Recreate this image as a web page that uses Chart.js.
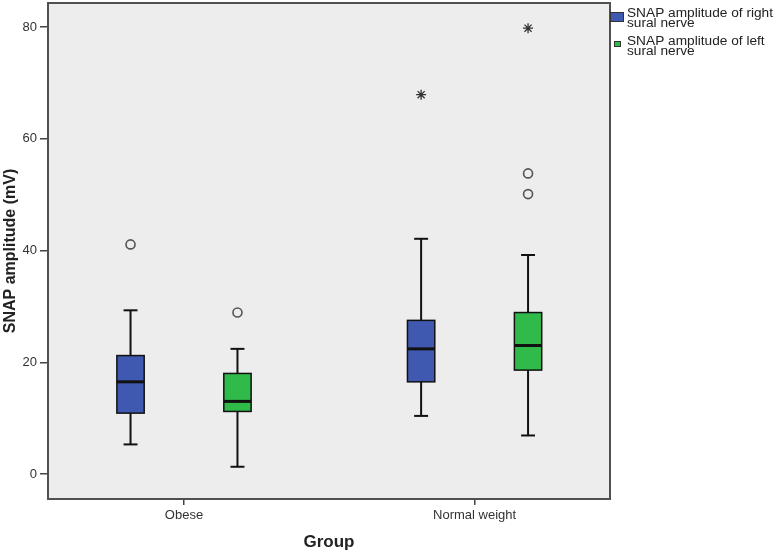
<!DOCTYPE html>
<html lang="en">
<head>
  <meta charset="UTF-8">
  <title>SNAP amplitude by group</title>
  <script src="https://cdn.jsdelivr.net/npm/chart.js"></script>
  <style>
    html, body { margin: 0; padding: 0; background: #fff; }
    #wrap { width: 778px; height: 553px; }
  </style>
</head>
<body>
  <div id="wrap"><canvas id="boxChart" width="778" height="553"></canvas></div>

  <script>
    // Groups on the x axis and the y tick values
    const categories = ['Obese', 'Normal weight'];
    const yTicks = [0, 20, 40, 60, 80];

    // Legend text (two lines each, as in the SPSS output)
    const rightName = ['SNAP amplitude of right', 'sural nerve'];
    const leftName = ['SNAP amplitude of left', 'sural nerve'];

    // Right sural nerve: whisker low, Q1, median, Q3, whisker high
    const rightMin = [5.3, 10.4];
    const rightQ1 = [10.9, 16.5];
    const rightMed = [16.5, 22.4];
    const rightQ3 = [21.2, 27.5];
    const rightMax = [29.3, 42.1];
    const rightOutliers = [[41.1], []];      // circles
    const rightExtremes = [[], [67.9]];      // stars

    // Left sural nerve
    const leftMin = [1.3, 6.9];
    const leftQ1 = [11.2, 18.6];
    const leftMed = [13.0, 23.0];
    const leftQ3 = [18.0, 28.9];
    const leftMax = [22.4, 39.2];
    const leftOutliers = [[28.9], [53.8, 50.1]];
    const leftExtremes = [[], [79.8]];

    const series = [
      { name: rightName, color: '#3f59b0', offset: -0.184,
        min: rightMin, q1: rightQ1, med: rightMed, q3: rightQ3, max: rightMax,
        outliers: rightOutliers, extremes: rightExtremes },
      { name: leftName, color: '#2fba4a', offset: 0.184,
        min: leftMin, q1: leftQ1, med: leftMed, q3: leftQ3, max: leftMax,
        outliers: leftOutliers, extremes: leftExtremes }
    ];

    const boxHalf = 0.047;   // half box width, in x units
    const capHalf = 0.024;   // half whisker cap width

    // turn the outlier lists into scatter points
    function points(s, key) {
      const pts = [];
      s[key].forEach(function(vals, ci) {
        vals.forEach(function(v) { pts.push({ x: ci + 1 + s.offset, y: v }); });
      });
      return pts;
    }

    const datasets = [];
    series.forEach(function(s) {
      datasets.push({
        label: s.name.join(' '),
        data: points(s, 'outliers'),
        pointStyle: 'circle',
        pointRadius: 4.5,
        backgroundColor: 'rgba(0,0,0,0)',
        borderColor: '#555',
        pointBorderWidth: 1.6
      });
      datasets.push({
        label: s.name.join(' ') + ' (extreme)',
        data: points(s, 'extremes'),
        pointStyle: 'star',
        pointRadius: 5,
        backgroundColor: 'rgba(0,0,0,0)',
        borderColor: '#333',
        pointBorderWidth: 1.3
      });
    });

    function line(ctx, x1, y1, x2, y2) {
      ctx.beginPath();
      ctx.moveTo(x1, y1);
      ctx.lineTo(x2, y2);
      ctx.stroke();
    }

    const boxPlugin = {
      id: 'boxes',
      beforeDraw(chart) {
        const ctx = chart.ctx, a = chart.chartArea;
        ctx.save();
        ctx.fillStyle = '#ededed';
        ctx.fillRect(a.left, a.top, a.right - a.left, a.bottom - a.top);
        ctx.restore();
      },
      beforeDatasetsDraw(chart) {
        const ctx = chart.ctx, xs = chart.scales.x, ys = chart.scales.y, a = chart.chartArea;
        ctx.save();
        series.forEach(function(s) {
          categories.forEach(function(c, ci) {
            const pos = ci + 1 + s.offset;
            const cx = xs.getPixelForValue(pos);
            const bl = xs.getPixelForValue(pos - boxHalf), br = xs.getPixelForValue(pos + boxHalf);
            const cl = xs.getPixelForValue(pos - capHalf), cr = xs.getPixelForValue(pos + capHalf);
            const yMin = ys.getPixelForValue(s.min[ci]), yMax = ys.getPixelForValue(s.max[ci]);
            const yQ1 = ys.getPixelForValue(s.q1[ci]), yQ3 = ys.getPixelForValue(s.q3[ci]);
            const yMed = ys.getPixelForValue(s.med[ci]);

            ctx.strokeStyle = '#111';
            ctx.lineWidth = 2;
            line(ctx, cx, yMin, cx, yMax);
            line(ctx, cl, yMin, cr, yMin);
            line(ctx, cl, yMax, cr, yMax);

            ctx.fillStyle = s.color;
            ctx.fillRect(bl, yQ3, br - bl, yQ1 - yQ3);
            ctx.lineWidth = 1.5;
            ctx.strokeRect(bl, yQ3, br - bl, yQ1 - yQ3);

            ctx.lineWidth = 3;
            line(ctx, bl, yMed, br, yMed);
          });
        });
        // plot frame
        ctx.strokeStyle = '#505050';
        ctx.lineWidth = 2;
        ctx.strokeRect(a.left, a.top, a.right - a.left, a.bottom - a.top);
        ctx.restore();
      },
      afterDraw(chart) {
        // SPSS style legend at the top right
        const ctx = chart.ctx;
        ctx.save();
        ctx.strokeStyle = '#333';
        ctx.lineWidth = 1;
        ctx.fillStyle = series[0].color;
        ctx.fillRect(610.5, 12.5, 13, 9);
        ctx.strokeRect(610.5, 12.5, 13, 9);
        ctx.fillStyle = series[1].color;
        ctx.fillRect(614.5, 41.5, 6, 5);
        ctx.strokeRect(614.5, 41.5, 6, 5);

        // the original text is a little stretched sideways
        ctx.fillStyle = '#222';
        ctx.font = '12px "Liberation Sans", Arial, sans-serif';
        ctx.textBaseline = 'alphabetic';
        ctx.translate(627, 0);
        ctx.scale(1.14, 1);
        ctx.fillText(series[0].name[0], 0, 16.5);
        ctx.fillText(series[0].name[1], 0, 26.5);
        ctx.fillText(series[1].name[0], 0, 44.5);
        ctx.fillText(series[1].name[1], 0, 54.5);
        ctx.restore();
      }
    };

    new Chart(document.getElementById('boxChart'), {
      type: 'scatter',
      data: { datasets: datasets },
      options: {
        responsive: false,
        animation: false,
        layout: { autoPadding: false, padding: { top: 3, right: 168, left: 0, bottom: 0 } },
        plugins: {
          legend: { display: false },
          tooltip: { enabled: false }
        },
        scales: {
          x: {
            type: 'linear',
            min: 0.532,
            max: 2.466,
            afterBuildTicks: function(scale) {
              scale.ticks = categories.map(function(c, i) { return { value: i + 1 }; });
            },
            afterFit: function(scale) {
              scale.height = 54;
              scale.paddingLeft = 0;
              scale.paddingRight = 0;
            },
            grid: { drawOnChartArea: false, drawTicks: true, tickLength: 6, color: '#444', lineWidth: 1.5 },
            border: { display: false },
            ticks: {
              color: '#333',
              padding: 3,
              font: { family: '"Liberation Sans", Arial, sans-serif', size: 13 },
              callback: function(v) { return categories[v - 1]; }
            },
            title: {
              display: true,
              text: 'Group',
              color: '#222',
              padding: { top: 0, bottom: 0 },
              font: { family: '"Liberation Sans", Arial, sans-serif', size: 17, weight: 'bold' }
            }
          },
          y: {
            min: -4.47,
            max: 84.3,
            afterBuildTicks: function(scale) {
              scale.ticks = yTicks.map(function(v) { return { value: v }; });
            },
            afterFit: function(scale) {
              scale.width = 48;
              scale.paddingTop = 0;
              scale.paddingBottom = 0;
            },
            grid: { drawOnChartArea: false, drawTicks: true, tickLength: 8, color: '#444', lineWidth: 1.5 },
            border: { display: false },
            ticks: {
              color: '#333',
              padding: 3,
              font: { family: '"Liberation Sans", Arial, sans-serif', size: 13 }
            },
            title: {
              display: true,
              text: 'SNAP amplitude (mV)',
              color: '#222',
              padding: { top: 1, bottom: 0 },
              font: { family: '"Liberation Sans", Arial, sans-serif', size: 16, weight: 'bold' }
            }
          }
        }
      },
      plugins: [boxPlugin]
    });
  </script>
</body>
</html>
